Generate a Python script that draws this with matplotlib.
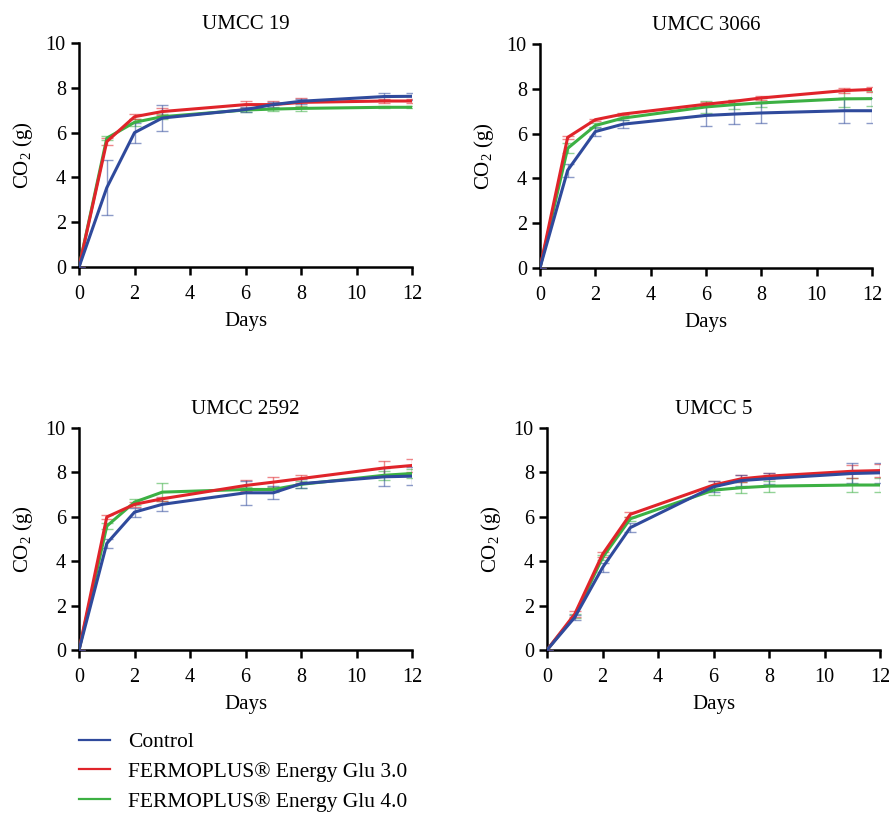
import numpy as np
import matplotlib
matplotlib.use('Agg')
import matplotlib.pyplot as plt
from matplotlib.lines import Line2D

plt.rcParams['font.family'] = ['Liberation Serif', 'DejaVu Serif']
plt.rcParams['mathtext.fontset'] = 'custom'
plt.rcParams['mathtext.rm'] = 'Liberation Serif'

days = [0, 1, 2, 3, 6, 7, 8, 11, 12]
titles = ['UMCC 19', 'UMCC 3066', 'UMCC 2592', 'UMCC 5']
labels = ['Control', 'FERMOPLUS® Energy Glu 3.0', 'FERMOPLUS® Energy Glu 4.0']

# UMCC 19
u19_ctrl = [0, 3.54, 6.0, 6.65, 7.03, 7.25, 7.4, 7.61, 7.62]
u19_ctrl_err = [0, 1.24, 0.45, 0.58, 0.1, 0.1, 0.12, 0.17, 0.17]
u19_g30 = [0, 5.6, 6.71, 6.94, 7.25, 7.25, 7.35, 7.41, 7.41]
u19_g30_err = [0, 0.17, 0.1, 0.15, 0.15, 0.15, 0.2, 0.1, 0.1]
u19_g40 = [0, 5.75, 6.46, 6.71, 7.01, 7.05, 7.08, 7.13, 7.13]
u19_g40_err = [0, 0.1, 0.15, 0.1, 0.07, 0.07, 0.1, 0.05, 0.05]

# UMCC 3066
u3066_ctrl = [0, 4.36, 6.09, 6.42, 6.81, 6.87, 6.92, 7.02, 7.02]
u3066_ctrl_err = [0, 0.3, 0.2, 0.18, 0.46, 0.45, 0.45, 0.55, 0.55]
u3066_g30 = [0, 5.83, 6.62, 6.87, 7.31, 7.44, 7.59, 7.92, 7.97]
u3066_g30_err = [0, 0.05, 0.05, 0.05, 0.08, 0.08, 0.1, 0.12, 0.12]
u3066_g40 = [0, 5.34, 6.36, 6.69, 7.19, 7.29, 7.37, 7.55, 7.56]
u3066_g40_err = [0, 0.22, 0.1, 0.1, 0.26, 0.2, 0.2, 0.35, 0.35]

# UMCC 2592
u2592_ctrl = [0, 4.8, 6.21, 6.56, 7.08, 7.08, 7.49, 7.8, 7.83]
u2592_ctrl_err = [0, 0.2, 0.2, 0.3, 0.55, 0.3, 0.2, 0.4, 0.4]
u2592_g30 = [0, 5.99, 6.56, 6.81, 7.41, 7.56, 7.72, 8.2, 8.31]
u2592_g30_err = [0, 0.1, 0.1, 0.1, 0.25, 0.25, 0.18, 0.3, 0.3]
u2592_g40 = [0, 5.58, 6.66, 7.11, 7.23, 7.23, 7.46, 7.87, 7.95]
u2592_g40_err = [0, 0.15, 0.15, 0.4, 0.1, 0.1, 0.15, 0.2, 0.2]

# UMCC 5
u5_ctrl = [0, 1.47, 3.71, 5.51, 7.35, 7.63, 7.72, 7.95, 7.98]
u5_ctrl_err = [0, 0.1, 0.2, 0.2, 0.25, 0.25, 0.25, 0.45, 0.45]
u5_g30 = [0, 1.62, 4.31, 6.11, 7.43, 7.71, 7.83, 8.05, 8.08]
u5_g30_err = [0, 0.15, 0.1, 0.1, 0.2, 0.15, 0.15, 0.3, 0.3]
u5_g40 = [0, 1.54, 4.16, 5.91, 7.2, 7.31, 7.38, 7.43, 7.43]
u5_g40_err = [0, 0.1, 0.1, 0.1, 0.2, 0.25, 0.25, 0.3, 0.3]

colors = ['#2f4a9c', '#e0242a', '#3cb043']

panels = [
    [(u19_ctrl, u19_ctrl_err), (u19_g30, u19_g30_err), (u19_g40, u19_g40_err)],
    [(u3066_ctrl, u3066_ctrl_err), (u3066_g30, u3066_g30_err), (u3066_g40, u3066_g40_err)],
    [(u2592_ctrl, u2592_ctrl_err), (u2592_g30, u2592_g30_err), (u2592_g40, u2592_g40_err)],
    [(u5_ctrl, u5_ctrl_err), (u5_g30, u5_g30_err), (u5_g40, u5_g40_err)],
]

# axes boxes in figure fractions (left, bottom, width, height)
boxes = [
    [0.0889, 0.6716, 0.3746, 0.2755],
    [0.6074, 0.6704, 0.3735, 0.2755],
    [0.0889, 0.2005, 0.3746, 0.2731],
    [0.6153, 0.2005, 0.3746, 0.2731],
]

fig = plt.figure(figsize=(8.89, 8.13), dpi=100)

for box, title, series in zip(boxes, titles, panels):
    ax = fig.add_axes(box)
    # green first so red and blue sit on top
    for idx in [2, 1, 0]:
        vals, err = series[idx]
        ax.errorbar(days, vals, yerr=err, color=colors[idx], ecolor=colors[idx],
                    elinewidth=1.0, capsize=4, capthick=1.0, lw=2.2, zorder=3)
    # fade the error bars a little
    for coll in ax.collections:
        coll.set_alpha(0.55)
    for ln in ax.lines:
        if ln.get_marker() not in (None, 'None', ''):
            ln.set_alpha(0.55)
    ax.set_xlim(0, 12)
    ax.set_ylim(0, 10)
    ax.set_xticks([0, 2, 4, 6, 8, 10, 12])
    ax.set_yticks([0, 2, 4, 6, 8, 10])
    ax.spines['top'].set_visible(False)
    ax.spines['right'].set_visible(False)
    ax.spines['left'].set_linewidth(1.8)
    ax.spines['bottom'].set_linewidth(1.8)
    ax.tick_params(direction='out', length=6, width=1.8, labelsize=14.5)
    ax.tick_params(axis='x', pad=7)
    ax.set_title(title, fontsize=15, pad=10)
    ax.set_xlabel('Days', fontsize=15, labelpad=6)
    ax.set_ylabel('CO$_2$ (g)', fontsize=15, labelpad=8)

handles = [Line2D([0], [0], color=c, lw=1.6) for c in colors]
fig.legend(handles, labels, loc='upper left', bbox_to_anchor=(0.0787, 0.110),
           frameon=False, fontsize=15.5, handlelength=1.45, handletextpad=0.85,
           labelspacing=0.45, borderaxespad=0)

fig.savefig('out.png', dpi=100)
